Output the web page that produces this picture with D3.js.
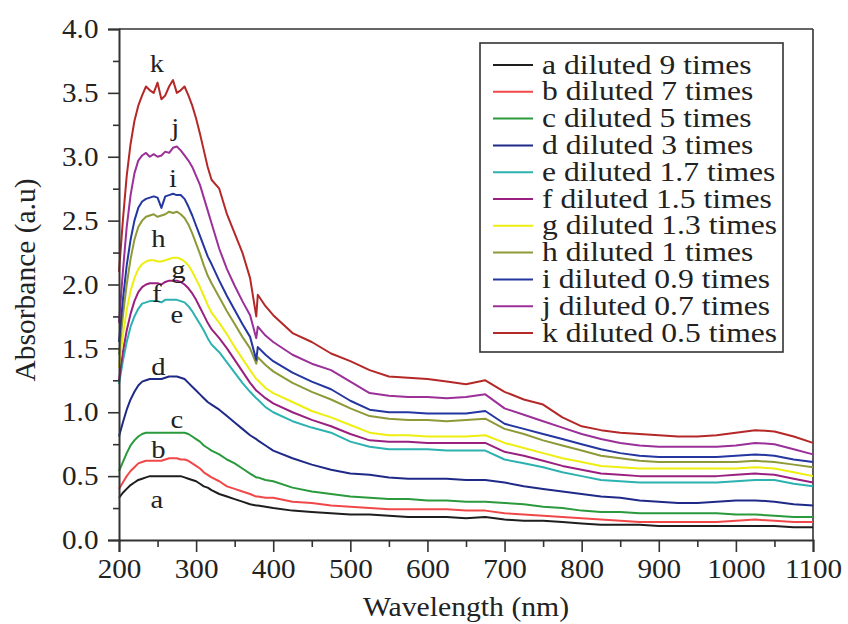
<!DOCTYPE html>
<html><head><meta charset="utf-8">
<script src="https://cdn.jsdelivr.net/npm/d3@7"></script>
<style>body{margin:0;background:#fff}svg{display:block}</style>
</head><body><svg id="c" width="848" height="624"></svg>
<script>
// wavelength grid (nm)
const wavelengths = [200,205,210,215,220,225,230,235,240,245,
  250,255,260,265,270,275,280,285,290,295,
  300,305,310,315,320,330,340,350,360,370,
  378,380,390,400,425,450,475,500,525,550,575,
  600,625,650,675,700,725,750,775,800,825,
  850,875,900,925,950,975,1000,1025,1050,1075,
  1100];

const seriesA = [0.33,0.37,0.40,0.43,0.45,0.47,0.48,0.49,0.50,0.50,
  0.50,0.50,0.50,0.50,0.50,0.50,0.50,0.49,0.48,0.47,
  0.46,0.44,0.42,0.41,0.39,0.36,0.34,0.32,0.30,0.28,
  0.27,0.27,0.26,0.25,0.23,0.22,0.21,0.20,0.20,0.19,0.18,
  0.18,0.18,0.17,0.18,0.16,0.15,0.15,0.14,0.13,0.12,
  0.12,0.12,0.11,0.11,0.11,0.11,0.11,0.11,0.11,0.10,
  0.10];
const seriesB = [0.40,0.45,0.50,0.54,0.57,0.60,0.61,0.62,0.62,0.62,
  0.62,0.62,0.63,0.64,0.64,0.64,0.63,0.63,0.62,0.60,
  0.58,0.56,0.53,0.51,0.49,0.46,0.42,0.40,0.38,0.36,
  0.34,0.34,0.33,0.33,0.30,0.29,0.27,0.26,0.25,0.24,0.24,
  0.24,0.24,0.23,0.23,0.21,0.20,0.19,0.18,0.17,0.16,
  0.15,0.14,0.14,0.14,0.14,0.14,0.15,0.16,0.15,0.14,
  0.14];
const seriesC = [0.54,0.61,0.68,0.74,0.78,0.81,0.83,0.84,0.84,0.84,
  0.84,0.84,0.84,0.84,0.84,0.84,0.84,0.84,0.83,0.81,
  0.79,0.77,0.74,0.72,0.70,0.67,0.63,0.60,0.56,0.52,
  0.49,0.49,0.47,0.46,0.41,0.38,0.36,0.34,0.33,0.32,0.32,
  0.31,0.31,0.30,0.30,0.29,0.28,0.26,0.25,0.23,0.22,
  0.22,0.21,0.21,0.21,0.21,0.21,0.20,0.20,0.19,0.18,
  0.18];
const seriesD = [0.81,0.92,1.02,1.10,1.16,1.21,1.24,1.25,1.26,1.26,
  1.26,1.26,1.27,1.28,1.28,1.28,1.27,1.26,1.23,1.20,
  1.17,1.14,1.11,1.08,1.06,1.02,0.97,0.92,0.87,0.82,
  0.79,0.78,0.74,0.70,0.64,0.59,0.55,0.52,0.51,0.49,0.48,
  0.48,0.48,0.47,0.47,0.45,0.42,0.40,0.38,0.36,0.34,
  0.33,0.31,0.30,0.29,0.29,0.30,0.31,0.31,0.30,0.28,
  0.27];
const seriesE = [1.22,1.40,1.55,1.67,1.75,1.81,1.85,1.86,1.87,1.87,
  1.87,1.86,1.88,1.88,1.88,1.88,1.87,1.86,1.83,1.79,
  1.74,1.69,1.64,1.58,1.53,1.47,1.39,1.31,1.23,1.16,
  1.11,1.10,1.04,1.00,0.93,0.88,0.84,0.77,0.73,0.71,0.71,
  0.71,0.70,0.70,0.70,0.63,0.60,0.57,0.53,0.50,0.47,
  0.46,0.45,0.45,0.45,0.45,0.45,0.46,0.47,0.47,0.44,
  0.42];
const seriesF = [1.25,1.47,1.64,1.77,1.87,1.94,1.98,2.00,2.01,2.01,
  2.01,2.00,2.02,2.03,2.03,2.03,2.02,2.00,1.97,1.93,
  1.88,1.82,1.76,1.70,1.65,1.58,1.50,1.41,1.32,1.23,
  1.17,1.16,1.11,1.07,1.00,0.94,0.89,0.83,0.78,0.77,0.77,
  0.76,0.76,0.76,0.76,0.69,0.66,0.62,0.58,0.55,0.52,
  0.51,0.50,0.50,0.50,0.50,0.50,0.51,0.52,0.51,0.48,
  0.45];
const seriesG = [1.35,1.60,1.80,1.95,2.05,2.12,2.16,2.18,2.19,2.19,
  2.18,2.18,2.19,2.20,2.21,2.21,2.20,2.18,2.15,2.10,
  2.04,1.98,1.91,1.84,1.78,1.70,1.61,1.51,1.42,1.33,
  1.26,1.25,1.19,1.15,1.08,1.01,0.96,0.90,0.84,0.82,0.82,
  0.81,0.81,0.81,0.82,0.76,0.72,0.68,0.64,0.61,0.58,
  0.57,0.56,0.56,0.56,0.56,0.56,0.56,0.57,0.56,0.53,
  0.50];
const seriesH = [1.45,1.75,2.00,2.20,2.35,2.45,2.50,2.53,2.54,2.55,
  2.53,2.54,2.55,2.57,2.56,2.57,2.55,2.52,2.47,2.40,
  2.32,2.24,2.15,2.07,2.01,1.90,1.79,1.69,1.59,1.50,
  1.38,1.43,1.37,1.32,1.23,1.16,1.10,1.03,0.97,0.95,0.94,
  0.94,0.93,0.94,0.95,0.87,0.83,0.78,0.74,0.70,0.66,
  0.64,0.62,0.61,0.61,0.61,0.61,0.61,0.62,0.61,0.59,
  0.57];
const seriesI = [1.55,1.88,2.15,2.35,2.50,2.60,2.65,2.67,2.68,2.69,
  2.68,2.60,2.69,2.70,2.71,2.70,2.70,2.67,2.61,2.54,
  2.46,2.38,2.30,2.22,2.16,2.03,1.91,1.80,1.69,1.59,
  1.41,1.51,1.45,1.40,1.31,1.24,1.18,1.09,1.02,1.00,1.00,
  0.99,0.99,0.99,1.01,0.91,0.87,0.83,0.79,0.75,0.71,
  0.68,0.66,0.65,0.65,0.65,0.65,0.66,0.67,0.66,0.63,
  0.61];
const seriesJ = [1.70,2.10,2.45,2.70,2.87,2.97,3.01,3.03,3.00,3.02,
  3.00,3.01,3.04,3.03,3.07,3.08,3.05,3.01,2.97,2.92,
  2.85,2.78,2.68,2.58,2.48,2.28,2.12,1.99,1.87,1.76,
  1.58,1.67,1.60,1.55,1.45,1.38,1.33,1.24,1.15,1.13,1.12,
  1.12,1.11,1.12,1.14,1.03,0.98,0.93,0.88,0.83,0.79,
  0.76,0.74,0.73,0.73,0.73,0.73,0.74,0.76,0.75,0.71,
  0.67];
const seriesK = [2.10,2.50,2.85,3.10,3.28,3.40,3.48,3.55,3.52,3.50,
  3.58,3.45,3.48,3.55,3.60,3.50,3.52,3.55,3.48,3.40,
  3.30,3.18,3.05,2.92,2.82,2.75,2.55,2.40,2.25,2.05,
  1.75,1.92,1.83,1.76,1.62,1.55,1.46,1.40,1.33,1.28,1.27,
  1.26,1.24,1.22,1.25,1.16,1.10,1.06,0.96,0.89,0.86,
  0.84,0.83,0.82,0.81,0.81,0.82,0.84,0.86,0.85,0.81,
  0.76];

const seriesLetters = ["a","b","c","d","e","f","g","h","i","j","k"];
const legendLabels = ["a diluted 9 times","b diluted 7 times","c diluted 5 times","d diluted 3 times",
  "e diluted 1.7 times","f diluted 1.5 times","g diluted 1.3 times","h diluted 1 times",
  "i diluted 0.9 times","j diluted 0.7 times","k diluted 0.5 times"];
const seriesColors = ["#1e1e1e","#f04848","#2a9a3c","#1f2a88","#2cb2b0","#9a2080","#eeee10","#8e9a38","#2436a0","#9a3098","#b42828"];
// curve letter annotations: [wavelength, absorbance] of each letter's baseline centre
const letterPos = [[249,0.25],[251,0.64],[275,0.88],[251,1.29],[275,1.70],[249,1.86],[277,2.05],[251,2.29],[270,2.76],[273,3.16],[249,3.66]];

const xTicks = [200,300,400,500,600,700,800,900,1000,1100];
const xMinor = [250,350,450,550,650,750,850,950,1050];
const yTicks = [0,0.5,1.0,1.5,2.0,2.5,3.0,3.5,4.0];
const yMinor = [0.25,0.75,1.25,1.75,2.25,2.75,3.25,3.75];

const allSeries = [seriesA,seriesB,seriesC,seriesD,seriesE,seriesF,seriesG,seriesH,seriesI,seriesJ,seriesK];

const svg = d3.select("#c");
const FONT = "'Liberation Serif','Times New Roman',serif";
const L = 119, R = 813, T = 29, B = 540;
const x = d3.scaleLinear().domain([200,1100]).range([L,R]);
const y = d3.scaleLinear().domain([0,4]).range([B,T]);

// frame (top & right)
svg.append("line").attr("x1",L).attr("x2",R).attr("y1",T).attr("y2",T).attr("stroke","#333").attr("stroke-width",1.6);
svg.append("line").attr("x1",R).attr("x2",R).attr("y1",T).attr("y2",B).attr("stroke","#333").attr("stroke-width",1.6);

// curves
const line = d3.line().x((d,i)=>x(wavelengths[i])).y(d=>y(d));
allSeries.forEach((s,k)=>{
  svg.append("path").attr("d",line(s)).attr("fill","none")
    .attr("stroke",seriesColors[k]).attr("stroke-width",2).attr("stroke-linejoin","round");
});

// axes
svg.append("g").attr("transform",`translate(0,${B})`)
  .call(d3.axisBottom(x).tickValues(xTicks).tickSize(12).tickPadding(7).tickFormat(d3.format("d")));
svg.append("g").attr("transform",`translate(0,${B})`)
  .call(d3.axisBottom(x).tickValues(xMinor).tickSize(7).tickFormat(""))
  .select(".domain").remove();
svg.append("g").attr("transform",`translate(${L},0)`)
  .call(d3.axisLeft(y).tickValues(yTicks).tickSize(11).tickPadding(8).tickFormat(d3.format(".1f")));
svg.append("g").attr("transform",`translate(${L},0)`)
  .call(d3.axisLeft(y).tickValues(yMinor).tickSize(6).tickFormat(""))
  .select(".domain").remove();
svg.selectAll(".domain").attr("stroke","#333").attr("stroke-width",2);
svg.selectAll(".tick line").attr("stroke","#333").attr("stroke-width",1.6);
svg.selectAll(".tick text").attr("font-family",FONT).attr("font-size",27).attr("fill","#222")
  .attr("transform","scale(1.08,1)");

// axis titles
svg.append("text").attr("transform",`translate(${(L+R)/2},616) scale(1.1,1)`)
  .attr("text-anchor","middle").attr("font-family",FONT).attr("font-size",27).attr("fill","#222")
  .text("Wavelength (nm)");
svg.append("text").attr("transform","translate(35,280) rotate(-90)")
  .attr("text-anchor","middle").attr("font-family",FONT).attr("font-size",29.5).attr("fill","#222")
  .text("Absorbance (a.u)");

// curve letters
letterPos.forEach((p,k)=>{
  svg.append("text").attr("transform",`translate(${x(p[0])},${y(p[1])}) scale(1.1,1)`)
    .attr("text-anchor","middle").attr("font-family",FONT).attr("font-size",26).attr("fill","#222")
    .text(seriesLetters[k]);
});

// legend
const lg = svg.append("g");
lg.append("rect").attr("x",480).attr("y",43).attr("width",303).attr("height",309)
  .attr("fill","#fff").attr("stroke","#333").attr("stroke-width",1.6);
legendLabels.forEach((t,k)=>{
  const yy = 65 + k*26.8;
  lg.append("line").attr("x1",493).attr("x2",533).attr("y1",yy).attr("y2",yy)
    .attr("stroke",seriesColors[k]).attr("stroke-width",2);
  lg.append("text").attr("transform",`translate(542,${yy+8.5}) scale(1.17,1)`)
    .attr("font-family",FONT).attr("font-size",27).attr("fill","#222").text(t);
});
</script></body></html>
